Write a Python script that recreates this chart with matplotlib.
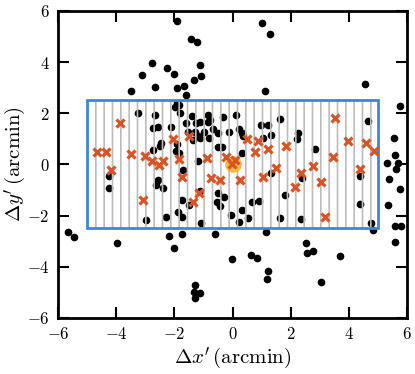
import matplotlib
matplotlib.use("Agg")
import matplotlib.pyplot as plt
from matplotlib.patches import Rectangle

plt.rcParams['mathtext.fontset'] = 'cm'
plt.rcParams['font.family'] = 'serif'
plt.rcParams['font.serif'] = ['cmr10', 'DejaVu Serif']
plt.rcParams['axes.formatter.use_mathtext'] = True
plt.rcParams['hatch.linewidth'] = 1.2

# black dots: all galaxies
gal_x = [-1.92, -1.42, -1.24, -2.77, -3.12, -2.26, -2.02, -1.12, -1.08, -1.32, -2.67, -1.92,
         -1.66, -1.61, -3.51, 1.00, 1.27, 1.12, 4.56,
         5.76, 5.54, 5.60, 5.30, 5.67, 5.61, 5.37, 5.76, 5.34, 5.58, 5.78, 5.58,
         -5.65, -5.47, -3.99,
         -2.18, -2.03, -1.74, -1.29, -1.33, -1.13, -1.30, -0.60, -0.01, 0.63, 0.85, 1.16,
         1.22, 1.19, 2.54, 2.55, 2.77, 3.05, 3.70,
         -1.92, -1.86, -1.98, -3.24, -2.68, -1.80, -1.38, -0.85, -0.77, -0.83, -0.34, 0.12,
         -2.73, -2.55, -2.12, -1.60, -1.25, -1.12, -1.52, -1.29, -1.00, -0.69, -0.49, -0.14,
         0.22, 0.32, 0.35, 0.98, 1.23, 1.63, 1.32, 1.04, -1.35, -1.18, -1.12, -0.80,
         -2.45, -2.49, -2.73, -1.92, -1.95, -1.86, -0.49, -0.37, 0.34, -1.18, -1.69,
         2.26, 2.21, 2.82, 4.67, -4.26, -4.26, -2.56, -2.62, -2.41, -2.98, -2.28, -1.87,
         -1.73, -1.73, -1.50, -1.08, -1.12, -0.51, -0.29, -0.55, -0.43, -0.04, 0.32, 0.23,
         0.52, 0.66, 0.92, 1.81, 1.31, 1.63, 2.38, 4.39, 4.38, 2.36, 4.76, 4.84]
gal_y = [5.60, 4.89, 4.80, 3.96, 3.50, 3.78, 3.55, 3.90, 3.45, 3.30, 3.04, 3.00,
         3.06, 2.73, 2.85, 5.54, 5.09, 2.88, 3.13,
         2.30, 1.02, 0.38, 0.05, 0.06, -0.19, -0.57, -0.95, -1.57, -2.39, -2.40, -3.04,
         -2.63, -2.85, -3.08,
         -2.78, -3.28, -2.71, -4.71, -5.00, -5.04, -5.21, -2.72, -3.71, -3.54, -3.64, -2.65,
         -4.16, -4.49, -3.08, -3.46, -3.39, -4.59, -3.60,
         2.39, 2.33, 2.26, 1.99, 1.93, 2.00, 1.91, 1.93, 1.74, 1.67, 1.84, 1.93,
         1.44, 1.48, 1.47, 1.61, 1.61, 1.67, 1.28, 1.28, 1.28, 1.38, 1.24, 1.28,
         1.39, 1.22, 1.12, 1.52, 1.54, 1.77, 1.15, 1.02, 0.96, 1.09, 1.02, 1.05,
         0.83, 0.72, 0.57, 0.80, 0.53, 0.44, 0.67, 0.67, 0.46, 0.15, -0.22,
         1.22, 0.98, 0.59, 1.70, -0.45, -0.93, -0.61, -0.80, -0.93, -2.17, -2.07, -1.88,
         -2.07, -1.39, -1.58, -2.30, -1.06, -1.10, -1.26, -1.48, -1.62, -1.98, -1.78, -2.24,
         -2.08, -1.48, -1.43, -1.19, -0.35, -2.10, -0.54, -0.44, -1.56, -2.14, -2.28, -2.56]

# red crosses: selected members
sel_x = [-3.88, -4.65, -4.37, -4.17, -3.49, -3.02, -2.76, -2.53, -2.38, -2.05, -1.49, -1.83,
         -1.73, -0.89, -0.22, 0.09, -0.03, 0.49, 0.89, 0.77, 1.23, 1.83, 1.48, -0.74,
         -0.45, 0.24, 1.05, 2.36, 2.76, 3.04, 2.16, 3.45, 4.37, 3.96, 4.59, 3.53,
         4.87, 3.19, -3.08, -1.37, -1.15]
sel_y = [1.60, 0.50, 0.50, -0.22, 0.41, 0.33, 0.14, -0.02, 0.15, 0.98, 1.11, 0.21,
         -0.50, 0.24, 0.28, 0.18, 0.02, 0.98, 0.92, 0.48, 0.59, 0.72, -0.15, -0.54,
         -0.61, -0.61, -0.48, -0.35, -0.06, -0.67, -0.89, 0.29, -0.20, 0.93, 0.85, 1.83,
         0.51, -2.04, -1.40, -1.48, -1.13]

center_x = [0.0]
center_y = [0.0]

fig = plt.figure(figsize=(4.15, 3.74), dpi=100)
ax = fig.add_axes([0.14, 0.15, 0.841, 0.821])

ax.plot(gal_x, gal_y, 'o', color='k', markersize=4.5, zorder=2)
ax.add_patch(Rectangle((-5, -2.5), 10, 5, facecolor='none', edgecolor='#bcbcbc',
                       hatch='||', linewidth=0, zorder=3))
ax.add_patch(Rectangle((-5, -2.5), 10, 5, facecolor='none', edgecolor='#3a86e0',
                       linewidth=2, zorder=4))
ax.plot(center_x, center_y, 'o', color='#f6b020', alpha=0.85, markersize=12,
        markeredgewidth=0, zorder=5)
ax.plot(sel_x, sel_y, 'x', color='#dd5320', markersize=6.3, markeredgewidth=2.3, zorder=6)

ax.set_xlim(-6, 6)
ax.set_ylim(-6, 6)
ax.set_xticks([-6, -4, -2, 0, 2, 4, 6])
ax.set_yticks([-6, -4, -2, 0, 2, 4, 6])
ax.tick_params(direction='in', length=8, width=1.5, top=True, right=True,
               labelsize=12, pad=6)
for s in ax.spines.values():
    s.set_linewidth(2)

ax.set_xlabel(r"$\Delta x^{\prime}\,(\mathrm{arcmin})$", fontsize=15, labelpad=2)
ax.set_ylabel(r"$\Delta y^{\prime}\,(\mathrm{arcmin})$", fontsize=15, labelpad=-1)

fig.savefig("out.png", dpi=100)
